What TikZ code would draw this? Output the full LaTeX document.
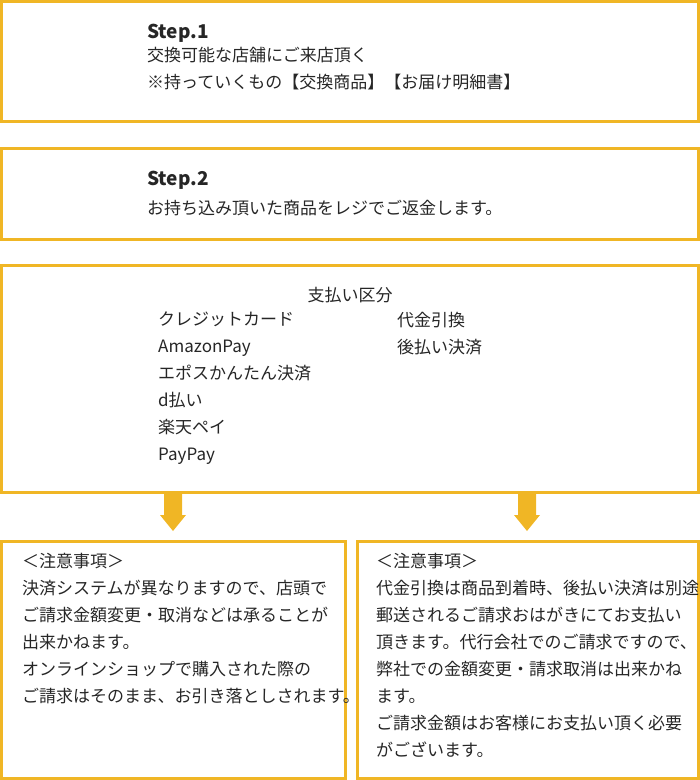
\documentclass[tikz,border=0pt]{standalone}
\usepackage{fontspec}
\setmainfont{Noto Sans CJK JP}
\definecolor{gold}{HTML}{F0B625}
\tikzset{
  frame/.style={draw=gold,line width=3pt},
  txt/.style={anchor=west,inner sep=0pt,font=\fontsize{17}{27}\selectfont,text=black!85,align=left},
  down/.style={fill=gold}
}
\begin{document}
\begin{tikzpicture}[x=1pt,y=-1pt]
      \useasboundingbox (0,0) rectangle (700,780);
      \draw[frame] (1.5,1.5) rectangle (698.5,121);
      \draw[frame] (1.5,148.5) rectangle (698.5,239);
      \draw[frame] (1.5,265.5) rectangle (698.5,492.5);
      \draw[frame] (1.5,541.5) rectangle (345,778.5);
      \draw[frame] (357,541.5) rectangle (698.5,778.5);
      \node[txt,font=\fontsize{19}{27}\bfseries] (s1) at (147,33) {Step.1};
      \node[txt,anchor=north west] (s1t) at (147,47) {交換可能な店舗にご来店頂く\\※持っていくもの【交換商品】【お届け明細書】};
      \node[txt,font=\fontsize{19}{27}\bfseries] (s2) at (147,180) {Step.2};
      \node[txt] (s2t) at (147,208) {お持ち込み頂いた商品をレジでご返金します。};
      \node[txt,anchor=center] (pay) at (350,295) {支払い区分};
      \node[txt,anchor=north west] (left) at (158,312) {クレジットカード\\AmazonPay\\エポスかんたん決済\\d払い\\楽天ペイ\\PayPay};
      \node[txt,anchor=north west] (right) at (397,312) {代金引換\\後払い決済};
      \node[txt,anchor=north west] (n1) at (22,553) {＜注意事項＞\\決済システムが異なりますので、店頭で\\ご請求金額変更・取消などは承ることが\\出来かねます。\\オンラインショップで購入された際の\\ご請求はそのまま、お引き落としされます。};
      \node[txt,anchor=north west] (n2) at (376,553) {＜注意事項＞\\代金引換は商品到着時、後払い決済は別途\\郵送されるご請求おはがきにてお支払い\\頂きます。代行会社でのご請求ですので、\\弊社での金額変更・請求取消は出来かね\\ます。\\ご請求金額はお客様にお支払い頂く必要\\がございます。};
      \foreach \ax in {173,527}
        \fill[down] (\ax-9,493) -- (\ax+9,493) -- (\ax+9,515) -- (\ax+13,515)
          -- (\ax,531) -- (\ax-13,515) -- (\ax-9,515) -- cycle;
\end{tikzpicture}
\end{document}
